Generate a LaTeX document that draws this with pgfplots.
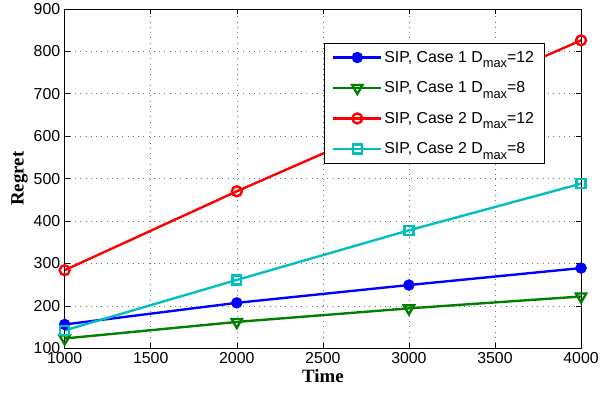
\documentclass[border=0pt]{standalone}
\usepackage{fontspec}
\setmainfont{Liberation Sans}
\newfontfamily\seriffont{Liberation Serif}
\usepackage{pgfplots}
\pgfplotsset{compat=1.18}
\definecolor{mblue}{rgb}{0,0,1}
\definecolor{mgreen}{rgb}{0,0.5,0}
\definecolor{mred}{rgb}{1,0,0}
\definecolor{mcyan}{rgb}{0,0.75,0.75}
\newcommand{\Dmax}{D\raisebox{-5.5bp}{\fontsize{13}{13}\selectfont max}}
\begin{document}
\begin{tikzpicture}[x=1bp,y=1bp]
\begin{axis}[
  name=ax,
  scale only axis,
  width=519bp, height=341bp,
  xmin=1000, xmax=4000, ymin=100, ymax=900,
  xtick={1000,1500,2000,2500,3000,3500,4000},
  ytick={100,200,...,900},
  /pgf/number format/assume math mode=true,
  /pgf/number format/1000 sep={},
  tick label style={font=\fontsize{16}{18}\selectfont},
  xticklabel style={yshift=-1bp},
  yticklabel style={xshift=-1bp},
  tick align=inside, xtick pos=both, ytick pos=both,
  major tick length=5bp,
  tick style={black, line width=0.6pt},
  axis line style={line width=0.8pt},
  grid=major,
  major grid style={black!55, line width=0.6pt, dash pattern=on 0.8pt off 4.5pt},
  xlabel={\seriffont\bfseries Time},
  ylabel={\seriffont\bfseries Regret},
  label style={font=\fontsize{19}{21}\selectfont},
  xlabel style={yshift=1bp},
  ylabel style={yshift=-1bp},
  legend style={at={(0.929,0.900)}, anchor=north east, draw=black, line width=0.8pt,
    font=\fontsize{16}{18}\selectfont, row sep=14bp, inner xsep=8bp, inner ysep=6bp,
    cells={anchor=west}},
  legend image code/.code={\draw[line width=2.4pt, mark repeat=2,mark phase=2] plot coordinates {(0bp,0bp) (24bp,0bp) (48bp,0bp)};},
]
\addplot[mblue, line width=2.4pt, mark=*, mark size=4.5bp, mark options={solid}] coordinates {(1000,156) (2000,207) (3000,249) (4000,289)};
\addlegendentry{SIP, Case 1 \Dmax=12}
\addplot[mgreen, line width=2.4pt, mark=triangle, mark size=6bp, mark options={solid, rotate=180}] coordinates {(1000,123) (2000,162) (3000,194) (4000,222)};
\addlegendentry{SIP, Case 1 \Dmax=8}
\addplot[mred, line width=2.4pt, mark=o, mark size=5bp, mark options={solid}] coordinates {(1000,284) (2000,470) (3000,648) (4000,826)};
\addlegendentry{SIP, Case 2 \Dmax=12}
\addplot[mcyan, line width=2.4pt, mark=square, mark size=4.5bp, mark options={solid}] coordinates {(1000,142) (2000,261) (3000,378) (4000,488)};
\addlegendentry{SIP, Case 2 \Dmax=8}
\end{axis}
\path (ax.south west) ++(-65bp,-50bp);
\path (ax.north east) ++(18bp,9bp);
\end{tikzpicture}
\end{document}
